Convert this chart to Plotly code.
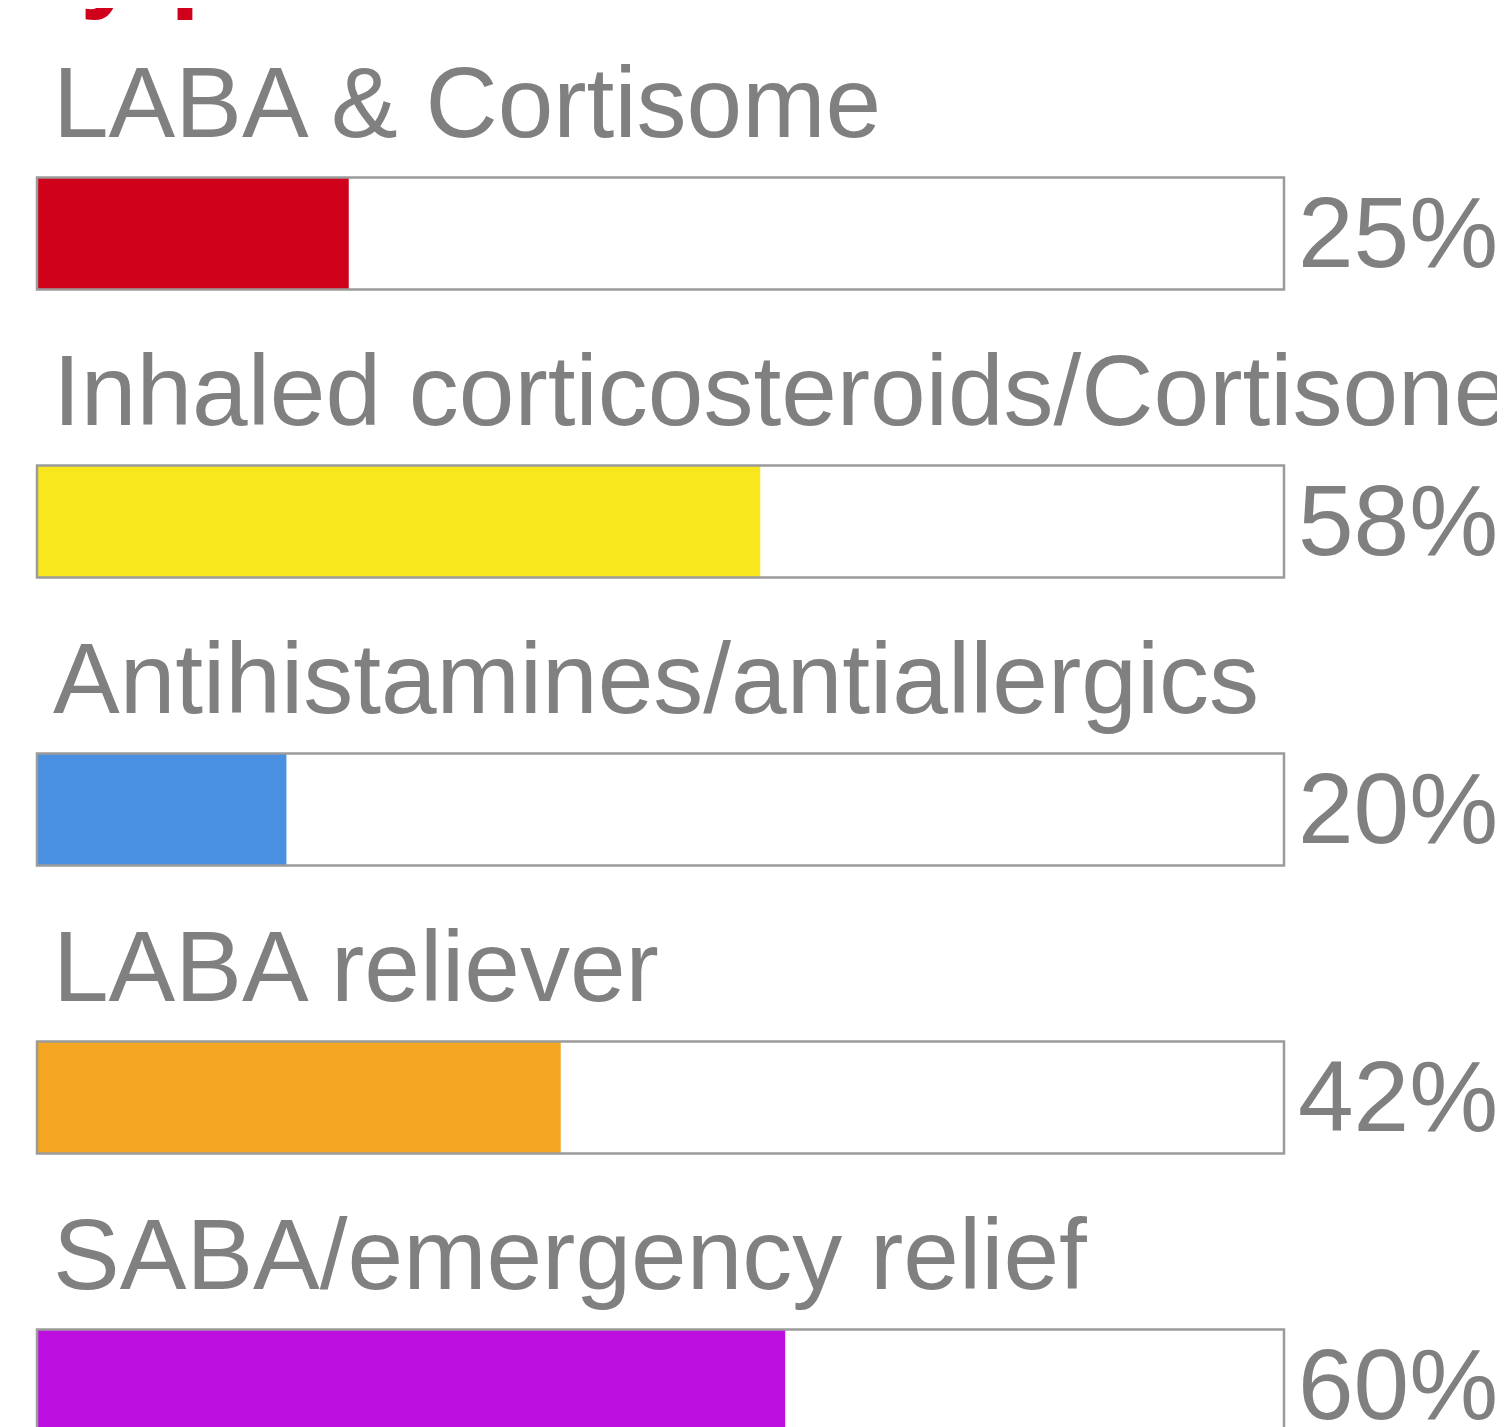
import plotly.graph_objects as go

categories = [
    "LABA & Cortisome",
    "Inhaled corticosteroids/Cortisone",
    "Antihistamines/antiallergics",
    "LABA reliever",
    "SABA/emergency relief",
]
values = [25, 58, 20, 42, 60]
colors = ["#D0021B", "#F8E71C", "#4A90E2", "#F5A623", "#BD10E0"]
full = [100] * len(categories)
title_text = "by product"

W, H = 1505, 1427
off = 8.0  # page body margin
x0_px, x100_px = 37.0 - off, 1284.0 - off
ppu = (x100_px - x0_px) / 100.0
xr = [-x0_px / ppu, (W - x0_px) / ppu]
c0, step = 233.5 - off, 288.0
yr = [(H - c0) / step, -c0 / step]
bw = 112.0 / step

gray_text = "#808080"
gray_line = "#9B9B9B"
font = "Liberation Sans, Arial, sans-serif"

fig = go.Figure()
fig.add_trace(go.Bar(y=categories, x=full, orientation="h", width=bw,
                     marker=dict(color="white", line=dict(width=0)),
                     hoverinfo="skip", showlegend=False))
fig.add_trace(go.Bar(y=categories, x=values, orientation="h", width=bw,
                     marker=dict(color=colors, line=dict(width=0)),
                     showlegend=False))
fig.add_trace(go.Bar(y=categories, x=full, orientation="h", width=bw,
                     marker=dict(color="rgba(0,0,0,0)",
                                 line=dict(color=gray_line, width=2.5)),
                     hoverinfo="skip", showlegend=False))

annotations = []
for cat, v in zip(categories, values):
    annotations.append(dict(x=0, y=cat, xref="x", yref="y", text=cat,
                            showarrow=False, xanchor="left", yanchor="middle",
                            xshift=14, yshift=132,
                            font=dict(family=font, size=100, color=gray_text)))
    annotations.append(dict(x=100, y=cat, xref="x", yref="y", text=f"{v}%",
                            showarrow=False, xanchor="left", yanchor="middle",
                            xshift=12, yshift=2,
                            font=dict(family=font, size=100, color=gray_text)))
annotations.append(dict(x=0, y=1, xref="x", yref="paper", text=f"<b>{title_text}</b>",
                        showarrow=False, xanchor="left", yanchor="bottom",
                        xshift=-25, yshift=-15,
                        font=dict(family=font, size=108, color="#D0021B")))

fig.update_layout(
    width=W, height=H,
    margin=dict(l=0, r=0, t=0, b=0),
    paper_bgcolor="white", plot_bgcolor="white",
    barmode="overlay",
    xaxis=dict(range=xr, visible=False, fixedrange=True),
    yaxis=dict(type="category", range=yr, visible=False, fixedrange=True),
    annotations=annotations,
)
fig.write_html("out.html")
